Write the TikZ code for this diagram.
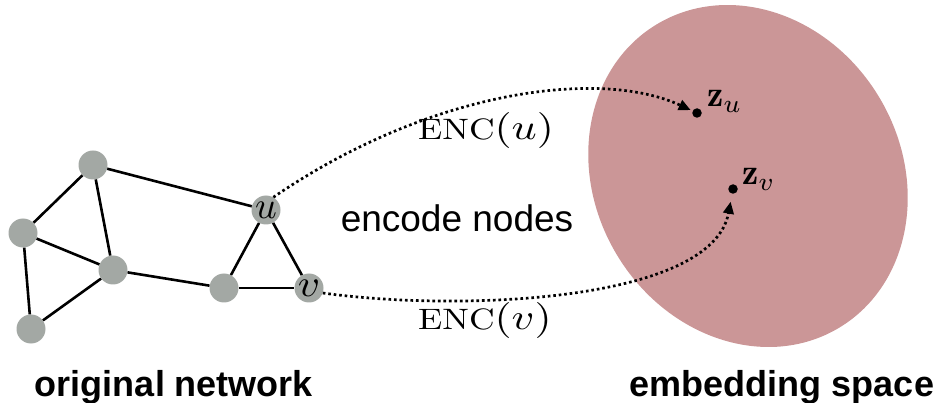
\documentclass[tikz,border=0pt]{standalone}
\usepackage{amsmath}
\usepackage{graphicx}
\usepackage{fontspec}
\newfontfamily\lsans{Liberation Sans}
\usetikzlibrary{arrows.meta}
\definecolor{nodegray}{RGB}{163,168,164}
\definecolor{blob}{RGB}{203,150,151}
\newcommand{\scmath}[2]{\scalebox{#1}{$#2$}}
\newcommand{\scmathxy}[3]{\scalebox{#1}[#2]{$#3$}}
\begin{document}
\begin{tikzpicture}[x=1pt,y=-1pt,
  vert/.style={circle,fill=nodegray,minimum size=29pt,inner sep=0pt},
  edge/.style={line width=2.6pt},
  enc/.style={line width=2.7pt,dash pattern=on 2.6pt off 2.9pt,-{Triangle[length=12pt,width=10.5pt]}},
  zdot/.style={circle,fill=black,minimum size=9.5pt,inner sep=0pt},
  zlabel/.style={anchor=base west,inner sep=0pt},
  enclabel/.style={anchor=base west,inner sep=0pt},
  caption/.style={anchor=base,inner sep=0pt,font=\lsans\bfseries\fontsize{36}{36}\selectfont},
  mid/.style={anchor=base,inner sep=0pt,font=\lsans\fontsize{37}{37}\selectfont}
]
\useasboundingbox (0,0) rectangle (945,403);
% embedding space
\fill[blob, rotate around={31:(748,176)}] (748,176) ellipse [x radius=153, y radius=177];
% graph
\node[vert] (A) at (93,165) {};
\node[vert] (B) at (23,233) {};
\node[vert] (C) at (113,270) {};
\node[vert] (D) at (31,329) {};
\node[vert] (E) at (224,288) {};
\node[vert] (u) at (266,210) {\scmath{3.8}{u}};
\node[vert] (v) at (309,288) {\scmathxy{4.3}{3.8}{v}};
\draw[edge] (A) -- (B);
\draw[edge] (A) -- (C);
\draw[edge] (A) -- (u);
\draw[edge] (B) -- (C);
\draw[edge] (B) -- (D);
\draw[edge] (C) -- (D);
\draw[edge] (C) -- (E);
\draw[edge] (E) -- (u);
\draw[edge] (E) -- (v);
\draw[edge] (u) -- (v);
% embeddings
\node[zdot] (zu) at (697,113) {};
\node[zdot] (zv) at (733,189) {};
\node[zlabel] (zul) at (707,107) {\scmath{3.65}{\mathbf{z}_u}};
\node[zlabel] (zvl) at (742,185) {\scmath{3.65}{\mathbf{z}_v}};
% arrows
\draw[enc, shorten >=2pt] (u.60) .. controls (430,90) and (600,68) .. (zu);
\draw[enc, shorten >=8pt] (v.-20) .. controls (460,312) and (712,302) .. (zv);
% labels
\node[enclabel] (encu) at (418,140) {\scmathxy{3.55}{2.95}{\mathrm{ENC}}\scmathxy{4.4}{3.6}{(u)}};
\node[enclabel] (encv) at (418,330) {\scmathxy{3.55}{2.95}{\mathrm{ENC}}\scmathxy{4.4}{3.6}{(v)}};
\node[mid] (enc) at (457,231.5) {encode nodes};
\node[caption] (orig) at (174,396.5) {original network};
\node[caption] (emb) at (782,396.5) {embedding space};
\end{tikzpicture}
\end{document}
